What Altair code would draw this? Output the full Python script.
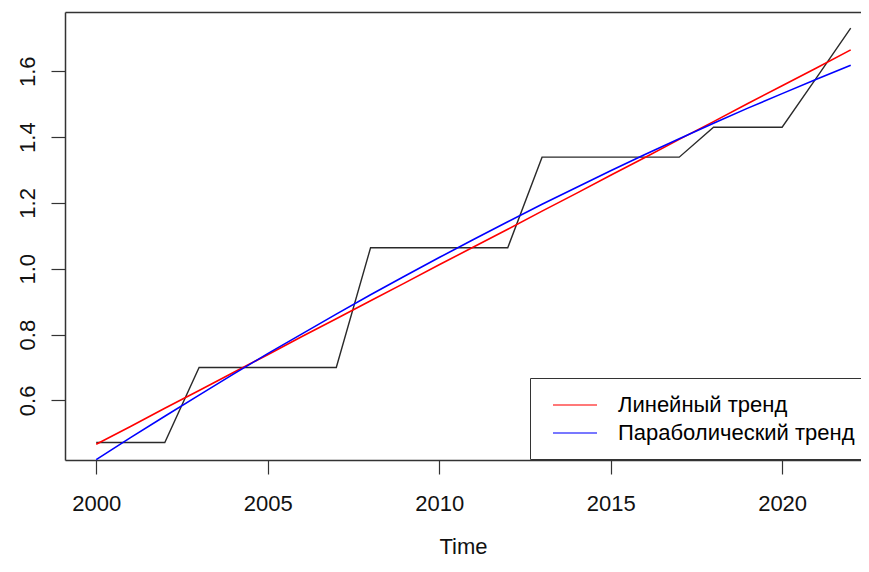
import altair as alt
import pandas as pd

years = list(range(2000, 2023))
actual = [0.472, 0.472, 0.472, 0.700, 0.700, 0.700, 0.700, 0.700,
          1.064, 1.064, 1.064, 1.064, 1.064, 1.339, 1.339, 1.339,
          1.339, 1.339, 1.430, 1.430, 1.430, 1.580, 1.731]
linear = [0.467, 0.521, 0.576, 0.630, 0.685, 0.739, 0.794, 0.848,
          0.903, 0.957, 1.012, 1.066, 1.120, 1.175, 1.229, 1.284,
          1.338, 1.393, 1.447, 1.502, 1.556, 1.610, 1.665]
parabolic = [0.420, 0.487, 0.552, 0.616, 0.680, 0.742, 0.802, 0.862,
             0.921, 0.978, 1.034, 1.089, 1.143, 1.196, 1.247, 1.298,
             1.347, 1.395, 1.442, 1.488, 1.532, 1.576, 1.618]
series_names = ["Линейный тренд", "Параболический тренд"]
series_colors = ["#ff0000", "#0000ff"]
x_ticks = [2000, 2005, 2010, 2015, 2020]
y_ticks = [0.6, 0.8, 1.0, 1.2, 1.4, 1.6]

df_actual = pd.DataFrame({"year": years, "value": actual})
df_trend = pd.concat([
    pd.DataFrame({"year": years, "value": linear, "series": series_names[0]}),
    pd.DataFrame({"year": years, "value": parabolic, "series": series_names[1]}),
])

FONT = "Liberation Sans"
x_scale = alt.Scale(domain=[1999.09, 2022.30], nice=False, zero=False)

x_bottom = alt.X("year:Q", scale=x_scale,
                 axis=alt.Axis(values=x_ticks, format="d", title="Time",
                               labelBaseline="alphabetic", labelPadding=36,
                               titleBaseline="alphabetic", titleY=93,
                               labelFlush=False, labelOverlap=False))
x_top = alt.X("year:Q", scale=x_scale,
              axis=alt.Axis(orient="top", labels=False, ticks=False, title=None))
x_none = alt.X("year:Q", scale=x_scale, axis=None)
y_enc = alt.Y("value:Q",
              scale=alt.Scale(domain=[0.419, 1.78], nice=False, zero=False),
              axis=alt.Axis(values=y_ticks, format=".1f", title=None,
                            labelAngle=270, labelAlign="center",
                            labelBaseline="alphabetic", labelPadding=17,
                            labelFlush=False, labelOverlap=False))

frame_top = alt.Chart(df_actual).mark_line(opacity=0).encode(x=x_top, y=y_enc)

black = alt.Chart(df_actual).mark_line(color="#2a2a2a", strokeWidth=1.4).encode(
    x=x_bottom, y=y_enc)

trends = alt.Chart(df_trend).mark_line(strokeWidth=1.6).encode(
    x=x_none, y=y_enc,
    color=alt.Color("series:N",
                    scale=alt.Scale(domain=series_names, range=series_colors),
                    legend=alt.Legend(orient="none", legendX=465, legendY=366,
                                      title=None,
                                      strokeColor="#333", fillColor="white",
                                      padding=15, symbolType="M-2,0H2",
                                      symbolSize=484, symbolStrokeWidth=1.4,
                                      symbolOffset=18, labelOffset=31,
                                      rowPadding=5, labelFontSize=22,
                                      labelLimit=500,
                                      labelFont=FONT, labelColor="black",
                                      symbolOpacity=0.7)),
    detail="series:N")

chart = alt.layer(frame_top, black, trends).resolve_axis(x="independent").properties(
    width=796, height=448,
    padding={"left": 57, "top": 4, "right": 0, "bottom": 99},
    autosize=alt.AutoSizeParams(type="none"),
).configure_view(stroke="transparent", strokeWidth=0).configure_axis(
    domain=True, domainColor="#333", domainWidth=1.5,
    grid=False, tickSize=14, tickColor="#333", tickWidth=1.2,
    labelFontSize=22, labelFont=FONT, labelColor="#111",
    titleFontSize=22, titleFont=FONT, titleFontWeight="normal", titleColor="#111",
)

chart.save("out.html", embed_options={"renderer": "svg", "actions": False})
